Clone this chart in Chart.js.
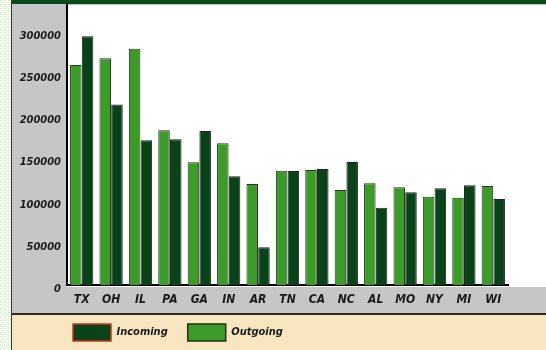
<!DOCTYPE html>
<html>
<head>
<meta charset="utf-8">
<script src="https://cdn.jsdelivr.net/npm/chart.js@4.4.1/dist/chart.umd.min.js"></script>
<style>
    html, body { margin: 0; padding: 0; background: #ffffff; }
    #wrap { width: 546px; height: 350px; position: relative; }
</style>
</head>
<body>
<div id="wrap"><canvas id="flowChart"></canvas></div>
<script>
const states = ['TX', 'OH', 'IL', 'PA', 'GA', 'IN', 'AR', 'TN', 'CA', 'NC', 'AL', 'MO', 'NY', 'MI', 'WI'];
const outgoing = [261000, 269000, 280000, 183500, 145500, 168000, 119800, 135600, 136400, 112700, 120600, 115900, 104700, 103500, 117400];
const incoming = [295000, 214000, 171600, 172800, 182600, 129000, 44700, 135200, 137600, 145900, 91700, 109900, 114700, 118200, 102000];
const yTicks = [0, 50000, 100000, 150000, 200000, 250000, 300000];

const fontFamily = "'DejaVu Sans Condensed', 'DejaVu Sans'";

// frame, panels and bands behind the plot
const backdrop = {
    id: 'backdrop',
    afterLayout(chart) {
        // push the legend right, under the plot
        if (chart.legend) {
            chart.legend.left += 41;
            chart.legend.right += 41;
        }
    },
    beforeDraw(chart) {
        const ctx = chart.ctx;
        const W = chart.width, H = chart.height;
        ctx.save();
        ctx.fillStyle = '#ffffff';
        ctx.fillRect(0, 0, W, H);

        // dotted strip at the far left
        const p = document.createElement('canvas');
        p.width = 4; p.height = 4;
        const pc = p.getContext('2d');
        pc.fillStyle = '#f2faee';
        pc.fillRect(0, 0, 4, 4);
        pc.fillStyle = '#c8e6bd';
        pc.fillRect(0, 0, 1, 1);
        pc.fillRect(2, 2, 1, 1);
        ctx.fillStyle = ctx.createPattern(p, 'repeat');
        ctx.fillRect(0, 0, 12, H);

        // gray tick panels
        ctx.fillStyle = '#c6c6c6';
        ctx.fillRect(12, 0, 55, 314);
        ctx.fillRect(12, 287, W - 12, 27);

        // legend band
        ctx.fillStyle = '#f8e6c0';
        ctx.fillRect(12, 315, W - 12, H - 315);
        ctx.fillStyle = '#2a2a2a';
        ctx.fillRect(12, 313, W - 12, 2);

        // header bar
        ctx.fillStyle = '#0b4a1f';
        ctx.fillRect(12, 0, W - 12, 4);
        ctx.fillStyle = '#bdbdbd';
        ctx.fillRect(67, 4, W - 67, 1);

        // left edge line
        ctx.fillStyle = '#3a3a3a';
        ctx.fillRect(11, 0, 1, H);
        ctx.restore();
    }
};

const legendLabels = function(chart) {
    const items = Chart.defaults.plugins.legend.labels.generateLabels(chart);
    items.forEach(item => {
        if (item.text === 'Incoming') {
            item.strokeStyle = '#c8341c';
        } else {
            item.strokeStyle = '#1f3316';
        }
        item.lineWidth = 1.5;
    });
    return items;
};

new Chart(document.getElementById('flowChart'), {
    type: 'bar',
    data: {
        labels: states,
        datasets: [{
            label: 'Outgoing',
            data: outgoing,
            backgroundColor: '#3d9b29',
            borderColor: '#26381f',
            borderWidth: 1,
            categoryPercentage: 0.8,
            barPercentage: 0.98
        }, {
            label: 'Incoming',
            data: incoming,
            backgroundColor: '#0a421a',
            borderColor: '#1c261c',
            borderWidth: 1,
            categoryPercentage: 0.8,
            barPercentage: 0.98
        }]
    },
    options: {
        responsive: true,
        maintainAspectRatio: false,
        animation: false,
        layout: {
            padding: { left: 12, right: 38, top: 5, bottom: -1 }
        },
        scales: {
            x: {
                grid: { display: false, drawTicks: false },
                border: { display: true, color: '#000000', width: 2 },
                ticks: { color: '#1a1a1a', font: { family: fontFamily, size: 12, weight: 'bold', style: 'italic' }, padding: 8, maxRotation: 0 },
                afterFit(scale) {
                    scale.height = 19;
                    scale.paddingLeft = 0;
                    scale.paddingRight = 0;
                }
            },
            y: {
                min: 0,
                max: 332000,
                grid: { display: false, drawTicks: false },
                border: { display: true, color: '#000000', width: 2 },
                ticks: {
                    color: '#1a1a1a',
                    font: { family: fontFamily, size: 11, weight: 'bold', style: 'italic' },
                    padding: 6,
                    autoSkip: false,
                    labelOffset: 4,
                    callback: v => String(v)
                },
                afterBuildTicks(scale) {
                    scale.ticks = yTicks.map(v => ({ value: v }));
                },
                afterFit(scale) {
                    scale.width = 55;
                    scale.paddingTop = 0;
                    scale.paddingBottom = 0;
                }
            }
        },
        plugins: {
            legend: {
                position: 'bottom',
                align: 'start',
                labels: {
                    boxWidth: 38,
                    boxHeight: 17,
                    padding: 20,
                    color: '#1a1a1a',
                    font: { family: fontFamily, size: 11, weight: 'bold', style: 'italic' },
                    generateLabels: legendLabels,
                    sort: (a, b) => b.datasetIndex - a.datasetIndex
                }
            },
            tooltip: { enabled: false }
        }
    },
    plugins: [backdrop]
});
</script>
</body>
</html>
